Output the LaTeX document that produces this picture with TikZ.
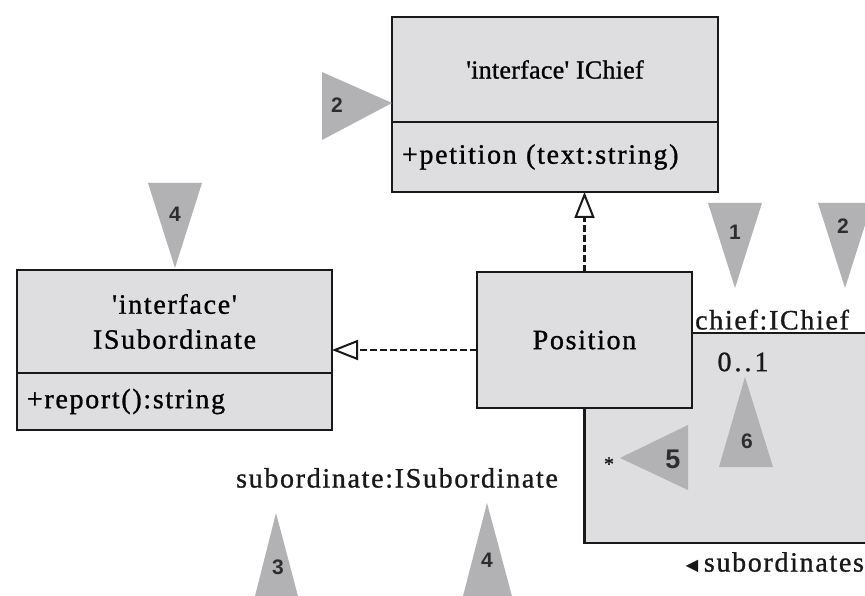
\documentclass[tikz,border=0pt]{standalone}
\usepackage{fontspec}
\setmainfont{Liberation Serif}
\newfontfamily\umlfont[LetterSpace=6, FakeBold=1]{Liberation Serif}
\newfontfamily\umltitlefont[LetterSpace=1, FakeBold=1]{Liberation Serif}
\newfontfamily\numfont{Liberation Sans}
\usepackage{tikz}
\usetikzlibrary{arrows.meta, positioning, backgrounds}
\definecolor{boxgray}{RGB}{222, 222, 225}
\definecolor{markgray}{RGB}{178, 178, 181}
\definecolor{numgray}{RGB}{45, 45, 45}
\definecolor{inkblack}{RGB}{25, 25, 25}

\tikzset{
  classpart/.style={draw=inkblack, line width=2.2pt, fill=boxgray, outer sep=0pt,
    inner sep=0pt, font=\fontsize{28}{35}\selectfont\umlfont},
  opspart/.style={classpart, inner xsep=10pt, align=left},
  rolelbl/.style={inner sep=3pt, text=inkblack, font=\fontsize{28}{30}\selectfont\umlfont},
  realize/.style={draw=inkblack, line width=2.6pt, dash pattern=on 7pt off 3pt,
    -{Triangle[open, length=26pt, width=20pt, line width=2pt]}},
  assoc/.style={draw=inkblack, line width=2.2pt},
  marker/.style={fill=markgray},
  num/.style={text=numgray, font=\fontsize{21}{21}\selectfont\numfont\bfseries}
}

\begin{document}
\begin{tikzpicture}[x=1pt, y=-1pt]
  \useasboundingbox (0, 0) rectangle (865, 596);

  % Interfaces
  \node[classpart, minimum width=326, minimum height=105,
    font=\fontsize{26}{30}\selectfont\umltitlefont] (ichiefhead) at (555, 69.5) {'interface' IChief};
  \node[opspart, text width=306, minimum height=70, below=0pt of ichiefhead] (ichiefops)
    {+petition (text:string)};

  \node[classpart, minimum width=315, minimum height=103, align=center] (isubhead)
    at (174.5, 321.5) {'interface'\\ISubordinate};
  \node[opspart, text width=295, minimum height=57, below=0pt of isubhead] (isubops)
    {+report():string};

  % Class
  \node[classpart, minimum width=215, minimum height=136] (position) at (584.5, 340) {Position};

  % Realizations
  \draw[realize] (position.north) -- (position.north |- ichiefops.south);
  \coordinate (realizefrom) at ([yshift=-10pt]position.west);
  \draw[realize] (realizefrom) -- (realizefrom -| isubhead.east);

  % Self association
  \coordinate (chiefend) at ([yshift=7pt]position.east);
  \coordinate (loopcorner) at (900, 543);
  \begin{scope}[on background layer]
    \fill[boxgray] (chiefend) -| (loopcorner) -| (position.south) -- (position.south east) -- cycle;
  \end{scope}
  \draw[assoc] (chiefend) -| (loopcorner) -| (position.south);

  \node[rolelbl, anchor=south west] (chieflbl) at (chiefend) {chief:IChief};
  \node[rolelbl] (chiefmult) at (743, 362) {0\kern3pt.\kern3pt.\kern3pt1};
  \node[rolelbl, font=\fontsize{20}{20}\selectfont\umlfont] (submult) at (609, 464) {*};
  \node[rolelbl] (sublbl) at (397, 478) {subordinate:ISubordinate};
  \node[rolelbl] (assoclbl) at (773, 562) {{\fontsize{20}{20}\selectfont ◄}\kern2pt subordinates};

  % Markers
  \fill[marker] (322, 72) -- (322, 140) -- (392, 103) -- cycle;
  \node[num] (numchief) at (337, 105) {2};
  \fill[marker] (148, 183) -- (202, 183) -- (175, 268) -- cycle;
  \node[num] (numsub) at (175, 214) {4};
  \fill[marker] (708, 203) -- (762, 203) -- (735, 288) -- cycle;
  \node[num] (numrole) at (735, 232) {1};
  \fill[marker] (818, 203) -- (872, 203) -- (845, 288) -- cycle;
  \node[num] (numtype) at (843, 226) {2};
  \fill[marker] (620, 458) -- (688, 425) -- (688, 490) -- cycle;
  \node[num, font=\fontsize{27}{27}\selectfont\numfont\bfseries] (nummany) at (673, 459) {5};
  \fill[marker] (745, 377) -- (719, 467) -- (773, 467) -- cycle;
  \node[num] (numone) at (747, 441) {6};
  \fill[marker] (276, 513) -- (254, 600) -- (299, 600) -- cycle;
  \node[num] (numrolesub) at (278, 567) {3};
  \fill[marker] (487, 503) -- (462, 600) -- (513, 600) -- cycle;
  \node[num] (numtypesub) at (487, 560) {4};
\end{tikzpicture}
\end{document}
